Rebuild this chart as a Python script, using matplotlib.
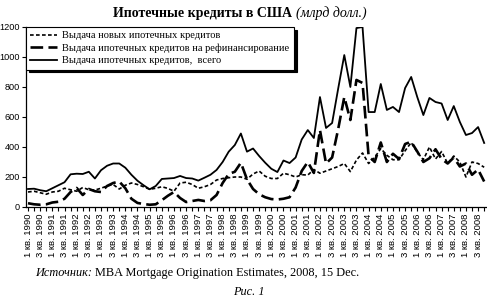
import numpy as np
import matplotlib
matplotlib.use("Agg")
from matplotlib import pyplot as plt

# quarterly data, 1 кв. 1990 .. 4 кв. 2008 (млрд долл.)
years = list(range(1990, 2009))
total = [120, 122, 112, 105, 125, 145, 165, 218, 222, 220, 235, 190, 245, 275, 290, 290,
         262, 215, 175, 145, 118, 140, 187, 190, 193, 207, 193, 190, 176, 195, 215, 247,
         300, 369, 413, 490, 369, 390, 340, 295, 255, 233, 310, 293, 330, 450, 513, 460,
         733, 527, 560, 790, 1013, 800, 1193, 1200, 633, 633, 820, 647, 667, 633, 793, 867,
         733, 613, 727, 700, 690, 580, 673, 567, 480, 493, 533, 427]
new_loans = [100, 105, 95, 85, 100, 105, 125, 115, 105, 130, 115, 113, 125, 140, 150, 120,
             145, 160, 150, 135, 118, 125, 135, 124, 105, 160, 165, 150, 125, 135, 150, 180,
             190, 195, 200, 200, 185, 220, 240, 205, 190, 190, 225, 215, 200, 215, 213, 250,
             225, 240, 255, 270, 290, 236, 313, 360, 290, 330, 390, 345, 315, 315, 375, 430,
             365, 315, 400, 320, 370, 290, 340, 300, 200, 300, 290, 265]
refinance = [25, 18, 15, 18, 30, 35, 55, 100, 127, 80, 120, 105, 100, 140, 160, 170,
             125, 55, 27, 20, 15, 18, 45, 75, 100, 60, 33, 40, 47, 40, 45, 80,
             160, 220, 235, 295, 185, 120, 85, 65, 53, 50, 55, 65, 130, 240, 300, 227,
             513, 290, 330, 520, 733, 580, 847, 827, 340, 300, 430, 300, 355, 320, 420, 435,
             370, 300, 325, 385, 320, 290, 330, 270, 290, 215, 250, 170]

labels = []
for y in years:
    labels.append('1 кв. %d' % y)
    labels.append('3 кв. %d' % y)

serif = 'Liberation Serif'
sans = 'Liberation Sans'

fig = plt.figure(figsize=(4.87, 3.06), dpi=100)
ax = fig.add_axes([26/487, 99/306, 460/487, 180/306])

x = np.arange(len(total))
l1, = ax.plot(x, new_loans, color='black', lw=1.2, linestyle=(0, (2.2, 1.4)))
l2, = ax.plot(x, refinance, color='black', lw=1.9, linestyle=(0, (4.8, 2.0)))
l3, = ax.plot(x, total, color='black', lw=1.3)

ax.set_xlim(-0.33, 75.3)
ax.set_ylim(0, 1200)
ax.set_yticks(range(0, 1201, 200))
major = np.arange(0, len(total), 2)
ax.set_xticks(major)
ax.set_xticklabels(labels[:len(major)], rotation=90, fontsize=6.8, family=sans)
ax.set_xticks(np.arange(len(total)), minor=True)
for t in ax.get_yticklabels():
    t.set_family(sans)
    t.set_fontsize(6.6)
ax.tick_params(axis='x', which='both', direction='out', length=3, width=0.8, pad=1.5)
ax.tick_params(axis='y', direction='out', length=3, width=0.8, pad=1.5)
ax.spines['top'].set_visible(False)
ax.spines['right'].set_visible(False)
ax.spines['left'].set_linewidth(0.9)
ax.spines['bottom'].set_linewidth(0.9)

leg = ax.legend([l1, l2, l3],
                ['Выдача новых ипотечных кредитов',
                 'Выдача ипотечных кредитов на рефинансирование',
                 'Выдача ипотечных кредитов,  всего'],
                loc='upper left', bbox_to_anchor=(0, 1), borderaxespad=0,
                fancybox=False, edgecolor='black', framealpha=1,
                prop={'family': serif, 'size': 7.5}, handlelength=2.6,
                handletextpad=0.5, labelspacing=0.3, borderpad=0.4,
                shadow={'color': 'black', 'alpha': 1})
leg.get_frame().set_linewidth(0.8)

fig.text(292/487, 1 - 13/306, 'Ипотечные кредиты в США', ha='right', va='center',
         family=serif, fontweight='bold', fontsize=10)
fig.text(296/487, 1 - 13/306, '(млрд долл.)', ha='left', va='center',
         family=serif, style='italic', fontsize=10)

fig.text(92/487, 1 - 273/306, 'Источник:', ha='right', va='center',
         family=serif, style='italic', fontsize=8.8)
fig.text(95/487, 1 - 273/306, 'MBA Mortgage Origination Estimates, 2008, 15 Dec.',
         ha='left', va='center', family=serif, fontsize=8.8)
fig.text(249/487, 1 - 292/306, 'Рис. 1', ha='center', va='center',
         family=serif, style='italic', fontsize=8.8)

fig.savefig('out.png', dpi=100)
